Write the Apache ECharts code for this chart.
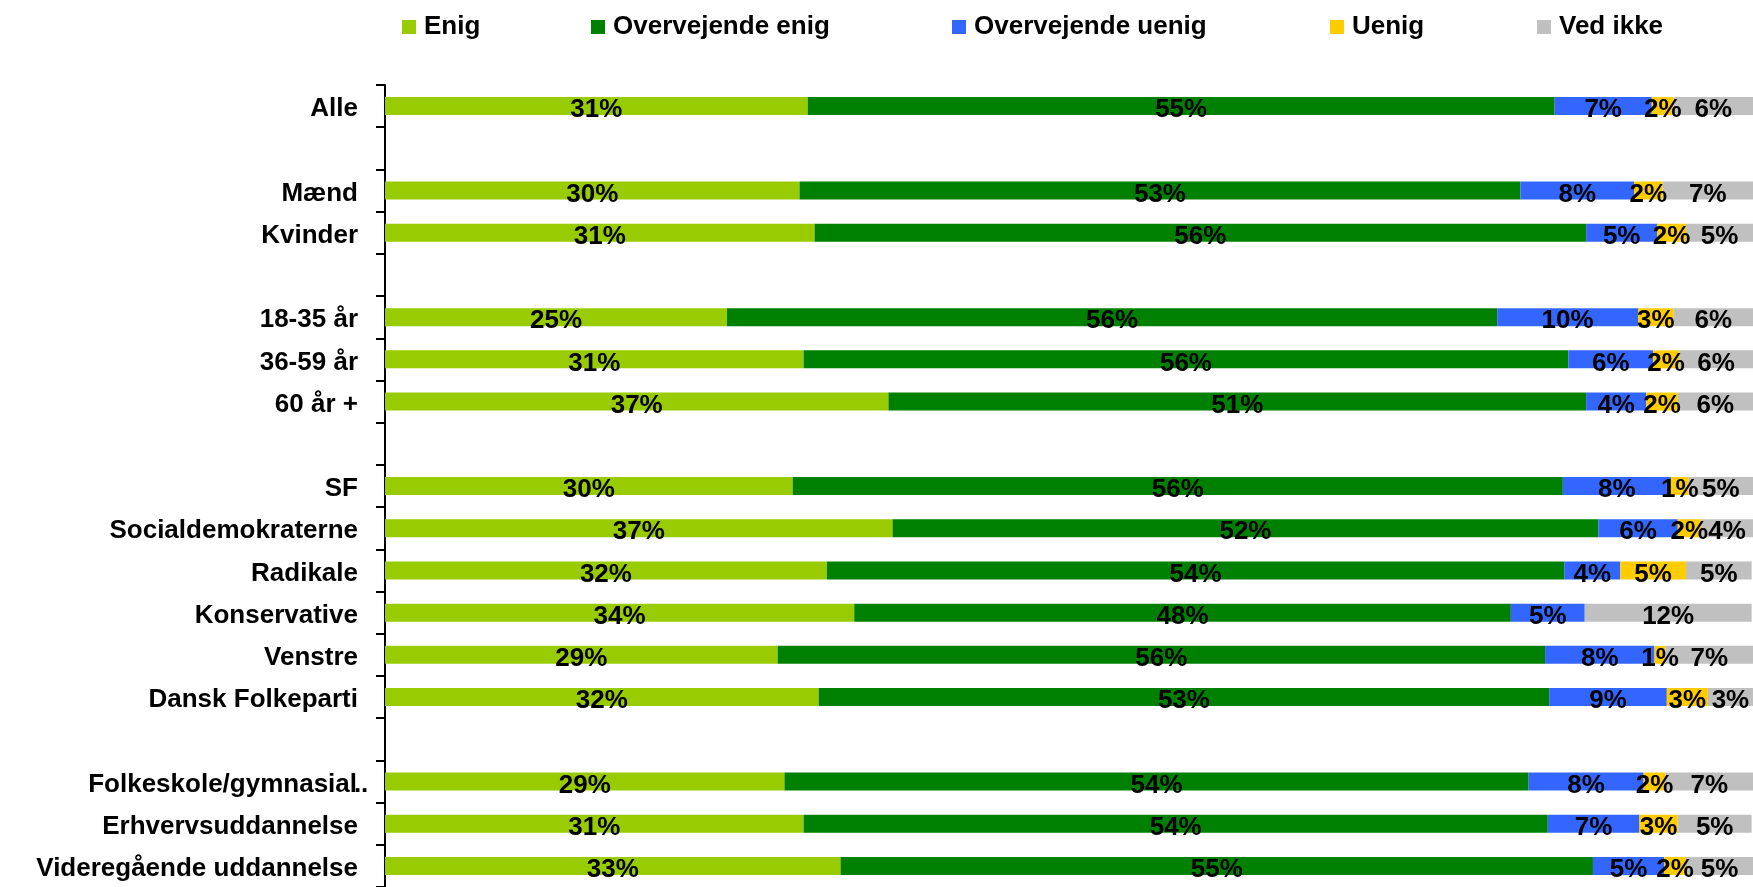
<!DOCTYPE html>
<html>
<head>
<meta charset="utf-8">
<script src="https://cdn.jsdelivr.net/npm/echarts@6/dist/echarts.min.js"></script>
<style>
html,body{margin:0;padding:0;background:#fff;}
#chart{width:1753px;height:887px;}
</style>
</head>
<body>
<div id="chart"></div>
<script>
const categories = ['Alle', ' ', 'Mænd', 'Kvinder', '  ', '18-35 år', '36-59 år', '60 år +', '   ',
  'SF', 'Socialdemokraterne', 'Radikale', 'Konservative', 'Venstre', 'Dansk Folkeparti', '    ',
  'Folkeskole/gymnasial ..', 'Erhvervsuddannelse', 'Videregående uddannelse'];
const seriesNames = ['Enig', 'Overvejende enig', 'Overvejende uenig', 'Uenig', 'Ved ikke'];
const enig            = [30.9, null, 30.3, 31.4, null, 25.0, 30.6, 36.8, null, 29.8, 37.1, 32.3, 34.3, 28.7, 31.7, null, 29.2, 30.6, 33.3];
const overvejendeEnig = [54.6, null, 52.7, 56.4, null, 56.3, 55.9, 51.0, null, 56.3, 51.6, 53.9, 48.0, 56.1, 53.4, null, 54.4, 54.4, 55.0];
const overvejendeUenig= [7.1,  null, 8.3,  5.2,  null, 10.3, 6.2,  4.4,  null, 7.9,  5.8,  4.1,  5.4,  8.0,  8.6,  null, 8.4,  6.7,  5.2];
const uenig           = [1.6,  null, 2.1,  2.1,  null, 2.6,  1.9,  2.3,  null, 1.3,  1.7,  4.8,  0,    0.8,  3.0,  null, 1.6,  2.8,  1.6];
const vedIkke         = [5.8,  null, 6.6,  4.9,  null, 5.9,  5.5,  5.5,  null, 4.7,  3.8,  4.8,  12.2, 6.6,  3.3,  null, 6.5,  5.4,  4.9];
const colors = ['#99CC00', '#008000', '#3366FF', '#FFCC00', '#C0C0C0'];
const legendLeft = [402, 591, 952, 1330, 1537];

const values = [enig, overvejendeEnig, overvejendeUenig, uenig, vedIkke];
const FONT = "'Liberation Sans', Arial, sans-serif";

const chart = echarts.init(document.getElementById('chart'), null, {renderer: 'canvas'});

const legends = seriesNames.map((n, i) => ({
  data: [n],
  left: legendLeft[i],
  top: 14,
  padding: 0,
  itemWidth: 14,
  itemHeight: 14,
  icon: 'rect',
  selectedMode: false,
  textStyle: {fontFamily: FONT, fontSize: 26, fontWeight: 'bold', color: '#000', padding: [0, 0, 0, 3]}
}));

const series = seriesNames.map((n, i) => ({
  name: n,
  type: 'bar',
  stack: 'total',
  barWidth: 18,
  itemStyle: {color: colors[i]},
  label: {
    show: true,
    position: 'inside',
    fontFamily: FONT,
    fontSize: 26,
    fontWeight: 'bold',
    color: '#000',
    offset: [0, 4],
    formatter: p => (p.value ? Math.round(p.value) + '%' : '')
  },
  emphasis: {disabled: true},
  data: values[i]
}));

chart.setOption({
  animation: false,
  backgroundColor: '#fff',
  color: colors,
  legend: legends,
  grid: {left: 385, right: -2, top: 85, bottom: -3.6, containLabel: false},
  xAxis: {type: 'value', min: 0, max: 100, show: false},
  yAxis: {
    type: 'category',
    inverse: true,
    data: categories,
    axisLine: {show: true, lineStyle: {color: '#000', width: 2}},
    axisTick: {show: true, length: 9, lineStyle: {color: '#000', width: 2}},
    axisLabel: {
      margin: 27,
      padding: [6, 0, 0, 0],
      fontFamily: FONT,
      fontSize: 26,
      fontWeight: 'bold',
      color: '#000',
      formatter: v => {
        const k = v.indexOf(' ..');
        if (k >= 0) return '{a|' + v.slice(0, k) + '}{b|\u00a0' + v.slice(k + 1) + '}';
        return v;
      },
      rich: {
        a: {fontFamily: FONT, fontSize: 26, fontWeight: 'bold', color: '#000'},
        b: {fontFamily: FONT, fontSize: 26, fontWeight: 'bold', color: '#000', width: 1, align: 'left'}
      }
    },
    splitLine: {show: false}
  },
  series: series
});
</script>
</body>
</html>
